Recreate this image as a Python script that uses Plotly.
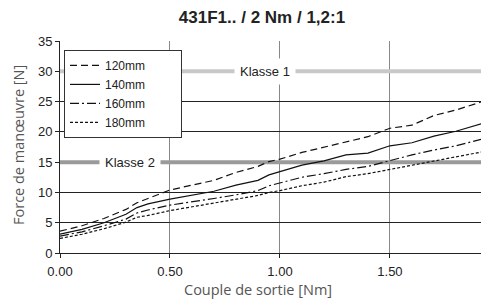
import plotly.graph_objects as go

torque = [0, 0.1, 0.2, 0.3, 0.35, 0.4, 0.5, 0.6, 0.7, 0.8, 0.9, 0.95, 1.0, 1.1, 1.2, 1.3, 1.4, 1.5, 1.6, 1.7, 1.8, 1.92]
f_120 = [3.6, 4.5, 5.7, 7.2, 8.3, 9.0, 10.4, 11.2, 12.0, 13.3, 14.3, 15.1, 15.5, 16.6, 17.5, 18.3, 19.2, 20.6, 21.1, 22.7, 23.6, 25.0]
f_140 = [3.1, 3.9, 5.0, 6.4, 7.5, 8.1, 8.9, 9.6, 10.2, 11.2, 12.0, 12.9, 13.4, 14.5, 15.2, 16.2, 16.5, 17.7, 18.2, 19.3, 20.1, 21.4]
f_160 = [2.8, 3.5, 4.5, 5.6, 6.6, 7.1, 7.9, 8.4, 9.0, 9.6, 10.3, 11.1, 11.6, 12.5, 13.1, 13.8, 14.3, 15.3, 16.2, 17.0, 17.7, 18.8]
f_180 = [2.4, 3.1, 4.0, 5.1, 5.9, 6.2, 7.0, 7.6, 8.2, 8.9, 9.5, 10.0, 10.3, 11.1, 11.7, 12.6, 13.1, 13.8, 14.5, 15.2, 15.9, 16.7]
series_names = ["120mm", "140mm", "160mm", "180mm"]
class_names = ["Klasse 1", "Klasse 2"]
class_levels = [30, 15]
class_label_x = [0.932, 0.318]
x_ticks = [0, 0.5, 1.0, 1.5]
y_ticks = [0, 5, 10, 15, 20, 25, 30, 35]

fig = go.Figure()

class_colors = ["#c8c8c8", "#9a9a9a"]
for name, lvl, col in zip(class_names, class_levels, class_colors):
    fig.add_trace(go.Scatter(x=[0, 1.92], y=[lvl, lvl], mode="lines",
                             line=dict(color=col, width=4), showlegend=False,
                             hoverinfo="skip"))

dashes = ["7px,4px", "solid", "9px,3px,2px,3px", "3px,2px"]
for name, ys, d in zip(series_names, [f_120, f_140, f_160, f_180], dashes):
    fig.add_trace(go.Scatter(x=torque, y=ys, mode="lines",
                             name=name + "\u00a0" * 9,
                             line=dict(color="#111111", width=1.2, dash=d)))

for name, lvl, lx in zip(class_names, class_levels, class_label_x):
    fig.add_annotation(x=lx, y=lvl, text=name, showarrow=False,
                       bgcolor="white", borderpad=5,
                       font=dict(family="Liberation Sans, Arial", size=13, color="#222"))

axis_title_font = dict(family="Open Sans, Lato", size=14.5, color="#555")
fig.add_annotation(text="Couple de sortie [Nm]", xref="paper", yref="paper",
                   x=(258 - 60) / 421, y=(253 - 289) / 212, showarrow=False,
                   xanchor="center", yanchor="middle", font=axis_title_font)
fig.add_annotation(text="Force de manœuvre [N]", xref="paper", yref="paper",
                   x=(18 - 60) / 421, y=(253 - 145) / 212, showarrow=False,
                   textangle=-90, xanchor="center", yanchor="middle",
                   font=axis_title_font)

fig.update_layout(
    width=481, height=300,
    margin=dict(l=60, r=0, t=41, b=47, autoexpand=False),
    paper_bgcolor="white", plot_bgcolor="white",
    title=dict(text="<b>431F1.. / 2 Nm / 1,2:1</b>", x=262/481, xanchor="center",
               y=1 - 17/300, yanchor="middle",
               font=dict(family="Liberation Sans, Arial", size=17, color="#222")),
    font=dict(family="Liberation Sans, Arial", size=13, color="#222"),
    legend=dict(x=0.0095, y=0.958, xanchor="left", yanchor="top",
                bgcolor="white", bordercolor="#333", borderwidth=1,
                font=dict(size=12, color="#222"), tracegroupgap=0,
                itemwidth=30),
    xaxis=dict(range=[0, 1.914], tickvals=x_ticks, tickformat=".2f",
               showgrid=True, gridcolor="#888", gridwidth=1,
               showline=True, linecolor="#222", linewidth=1, automargin=False,
               ticks="outside", ticklen=4, tickcolor="#222", zeroline=False,
               ticklabelstandoff=2),
    yaxis=dict(range=[0, 35], tickvals=y_ticks,
               showgrid=True, gridcolor="#222", gridwidth=1,
               showline=True, linecolor="#222", linewidth=1, automargin=False,
               ticks="outside", ticklen=4, tickcolor="#222", zeroline=False),
)

fig.write_html("out.html", config={"displayModeBar": False},
               post_script="document.body.style.margin='0';document.body.style.overflow='hidden';")
